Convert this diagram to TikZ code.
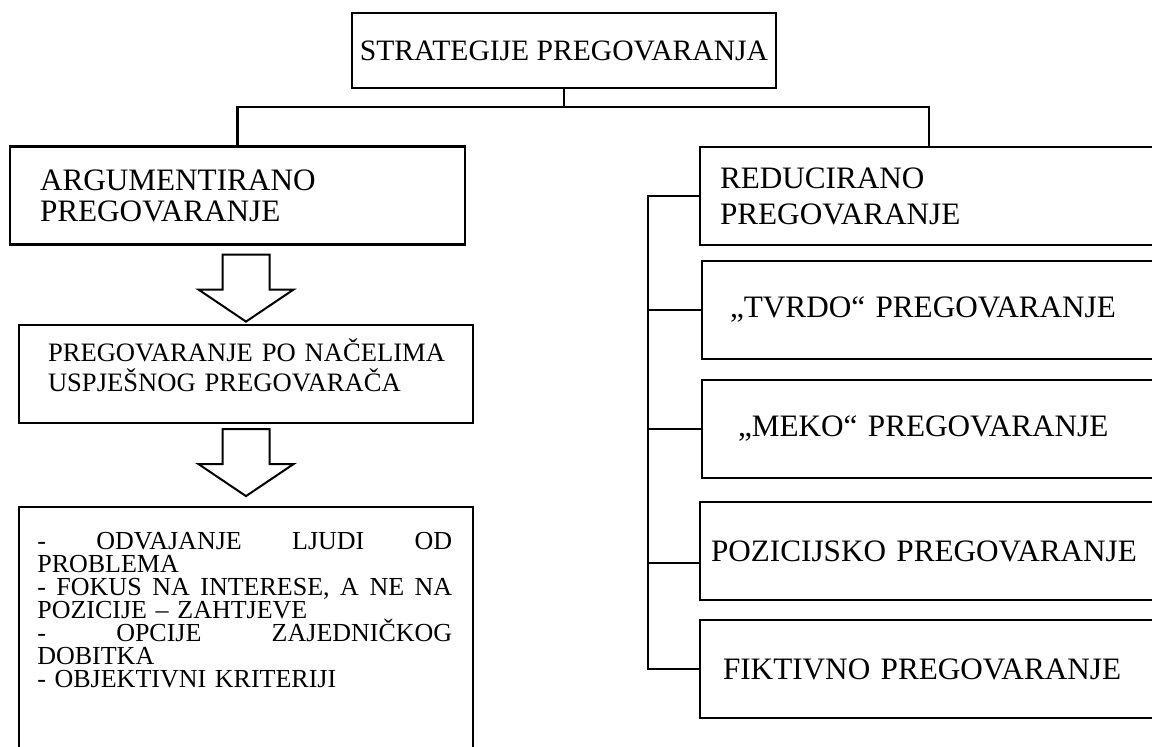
\documentclass[tikz,border=0pt]{standalone}
\usepackage{fontspec}
\setmainfont{Liberation Serif}
\usepackage{tikz}
\usetikzlibrary{positioning, calc}

\newcommand{\spreadline}[1]{\leavevmode\hbox to 207.5pt{\spaceskip=0.25em plus 1fil #1}}
\newcommand{\blockdown}[1]{%
  \draw[blockarr] ([xshift=-11.75pt]#1) -- ++(0,35) -- ++(-24,0) -- ++(47.5,32)
    -- ++(47.5,-32) -- ++(-24,0) -- ++(0,-35) -- cycle;}

\begin{document}
\begin{tikzpicture}[x=0.5pt, y=-0.5pt,
  box/.style={draw, line width=1.1pt, inner sep=0pt, align=left, minimum height=49pt},
  headtext/.style={font=\fontsize{15.6}{15.5}\selectfont},
  smalltext/.style={font=\fontsize{13.3}{15}\selectfont},
  listtext/.style={font=\fontsize{13}{11.5}\selectfont,
    inner sep=0pt, align=left, text width=207.5pt},
  conn/.style={line width=1.1pt},
  blockarr/.style={draw, line width=1pt, fill=white, line join=miter}]
\useasboundingbox (0,0) rectangle (1152,747);
\clip (0,0) rectangle (1152,747);

% root
\node[box, align=center, minimum width=212pt, minimum height=37.5pt,
  font=\fontsize{14.8}{15}\selectfont] (title) at (564,50.5) {STRATEGIJE PREGOVARANJA};

% left branch
\node[box, headtext, minimum width=227.5pt, text width=197.5pt] (argbox) at (237.5,195.5)
  {ARGUMENTIRANO\\PREGOVARANJE};
\node[box, smalltext, minimum width=227pt, text width=198pt, text depth=24pt] (midbox) at (246,374)
  {\mbox{PREGOVARANJE PO NAČELIMA}\\\mbox{USPJEŠNOG PREGOVARAČA}};
\node[box, minimum width=227pt, minimum height=131.5pt] (crit) at (246,638.5) {};
\node[listtext, anchor=north west] (critlist) at ($(crit.north west)+(19,26)$) {%
  \lineskiplimit=-100pt
  \spreadline{- ODVAJANJE LJUDI OD}\\
  PROBLEMA\\
  \spreadline{- FOKUS NA INTERESE, A NE NA}\\
  POZICIJE – ZAHTJEVE\\
  \spreadline{- OPCIJE ZAJEDNIČKOG}\\
  DOBITKA\\
  - OBJEKTIVNI KRITERIJI};

\coordinate (arr1) at ($(midbox.north |- argbox.south)+(0,9)$);
\coordinate (arr2) at ($(midbox.south)+(0,5)$);
\blockdown{arr1}
\blockdown{arr2}

% right branch
\node[box, font=\fontsize{15.6}{18}\selectfont, minimum width=229pt, text width=209pt] (redbox) at (929,196)
  {REDUCIRANO\\PREGOVARANJE};
\node[box, headtext, minimum width=228pt, text width=200pt] (tvrdo) at (930,310)
  {„TVRDO“ PREGOVARANJE};
\node[box, headtext, minimum width=228pt, text width=192pt] (meko) at (930,429)
  {„MEKO“ PREGOVARANJE};
\node[box, headtext, minimum width=229pt, text width=218pt] (pozic) at (929,551)
  {POZICIJSKO PREGOVARANJE};
\node[box, headtext, minimum width=229pt, text width=206pt] (fikt) at (929,669)
  {FIKTIVNO PREGOVARANJE};

% connectors
\draw[conn] (title.south) -- ++(0,18) coordinate (fork);
\draw[conn] (argbox.north) |- (fork) -| (redbox.north);
\draw[conn] (redbox.west) -- ++(-51,0) coordinate (spine) |- (fikt.west);
\foreach \b in {tvrdo, meko}
  \draw[conn] (spine |- \b.west) -- (\b.west);
\coordinate (pozjoin) at ([yshift=-6pt]pozic.west);
\draw[conn] (spine |- pozjoin) -- (pozjoin);
\end{tikzpicture}
\end{document}
